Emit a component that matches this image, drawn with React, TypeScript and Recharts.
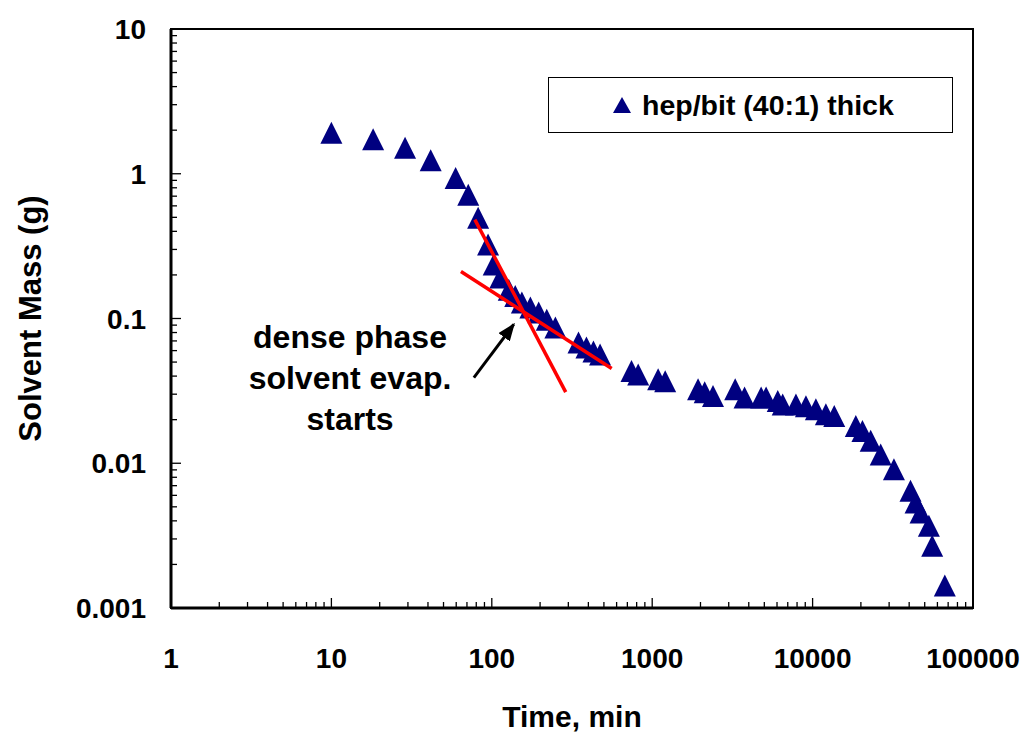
import React from "react";
import {
  Legend,
  ReferenceArea,
  ReferenceLine,
  Scatter,
  ScatterChart,
  XAxis,
  YAxis,
} from "recharts";

// values (minutes, grams)
const timeMin = [
  10, 18.2, 28.8, 41.6, 59.5, 71.3, 82.2, 94.8, 102.8, 113, 127.6, 140, 154,
  174, 196, 220, 249, 347, 389, 430, 473, 743, 818, 1089, 1205, 1932, 2125,
  2393, 3290, 3765, 4775, 5130, 6065, 6510, 7875, 9085, 10480, 12100, 13640,
  18590, 20450, 23030, 26570, 32150, 40780, 43850, 47110, 53100, 55650, 66700,
];
const massG = [
  1.92, 1.73, 1.51, 1.24, 0.933, 0.716, 0.497, 0.324, 0.236, 0.192, 0.158,
  0.143, 0.129, 0.119, 0.11, 0.098, 0.0867, 0.0683, 0.063, 0.0592, 0.0565,
  0.0434, 0.0411, 0.038, 0.0368, 0.0324, 0.0309, 0.0291, 0.0324, 0.0285,
  0.0285, 0.0285, 0.0269, 0.0255, 0.0255, 0.0248, 0.0236, 0.0218, 0.0212,
  0.0181, 0.0167, 0.0143, 0.0115, 0.0091, 0.00645, 0.00536, 0.00457, 0.0037,
  0.00269, 0.00143,
];

const xMajorTicks = [1, 10, 100, 1000, 10000, 100000];
const yMajorTicks = [0.001, 0.01, 0.1, 1, 10];
const minorSteps = [2, 3, 4, 5, 6, 7, 8, 9];
const xAllTicks = [
  ...xMajorTicks,
  ...xMajorTicks.slice(0, -1).flatMap((d) => minorSteps.map((m) => m * d)),
];
const yAllTicks = [
  ...yMajorTicks,
  ...yMajorTicks.slice(0, -1).flatMap((d) => minorSteps.map((m) => m * d)),
];

// hand-drawn fit lines and the arrow, in data units
const fitSteep = [
  { x: 78.4, y: 0.482 },
  { x: 289, y: 0.031 },
];
const fitShallow = [
  { x: 64.2, y: 0.211 },
  { x: 559, y: 0.0452 },
];
const arrowPts = [
  { x: 77.3, y: 0.039 },
  { x: 137, y: 0.091 },
];
const noteLines = ["dense phase", "solvent evap.", "starts"];
const seriesName = "hep/bit (40:1) thick";

const data = timeMin.map((t, i) => ({ x: t, y: massG[i] }));

const FONT = "'Liberation Sans', Arial, Helvetica, sans-serif";
const NAVY = "#000080";
const X_GAP = 40; // distance from axis line to tick text anchor
const Y_GAP = 25;

const isMajor = (list: number[], v: number) =>
  list.some((m) => Math.abs(m - v) / m < 1e-9);

const Triangle = (props: any) => {
  const { cx, cy } = props;
  return (
    <polygon
      points={`${cx},${cy - 11} ${cx - 11},${cy + 11} ${cx + 11},${cy + 11}`}
      fill={NAVY}
    />
  );
};

const NoMark = () => <g />;

const XTick = (props: any) => {
  const { x, y, payload } = props;
  const major = isMajor(xMajorTicks, payload.value);
  const base = y - X_GAP;
  return (
    <g>
      <line x1={x} x2={x} y1={base} y2={base - (major ? 10 : 6)} stroke="#000" strokeWidth={1.3} />
      {major && (
        <text x={x} y={y + 20} textAnchor="middle" fontFamily={FONT} fontWeight="bold" fontSize={28} fill="#000">
          {String(payload.value)}
        </text>
      )}
    </g>
  );
};

const YTick = (props: any) => {
  const { x, y, payload } = props;
  const major = isMajor(yMajorTicks, payload.value);
  const base = x + Y_GAP;
  return (
    <g>
      <line x1={base} x2={base + (major ? 10 : 6)} y1={y} y2={y} stroke="#000" strokeWidth={1.3} />
      {major && (
        <text x={x} y={y + 10} textAnchor="end" fontFamily={FONT} fontWeight="bold" fontSize={28} fill="#000">
          {String(payload.value)}
        </text>
      )}
    </g>
  );
};

const LegendBox = () => (
  <div
    style={{
      width: 405,
      height: 56,
      boxSizing: "border-box",
      border: "1px solid #000",
      background: "#fff",
      display: "flex",
      alignItems: "center",
      paddingLeft: 63,
      fontFamily: FONT,
      fontWeight: "bold",
      fontSize: 28.5,
      color: "#000",
    }}
  >
    <svg width={20} height={18} style={{ marginRight: 10 }}>
      <polygon points="10,1 1,17 19,17" fill={NAVY} />
    </svg>
    <span>{seriesName}</span>
  </div>
);

export default function App() {
  return (
    <div style={{ position: "absolute", left: 0, top: 0 }}>
      <ScatterChart
        width={1025}
        height={734}
        margin={{ top: 29, right: 52, bottom: 0, left: 0 }}
        style={{ background: "#fff" }}
      >
        <defs>
          <marker
            id="arrowHead"
            markerUnits="userSpaceOnUse"
            markerWidth={18}
            markerHeight={14}
            refX={16}
            refY={7}
            orient="auto"
          >
            <path d="M0,0 L18,7 L0,14 z" fill="#000" />
          </marker>
        </defs>

        <XAxis
          xAxisId="main"
          dataKey="x"
          type="number"
          scale="log"
          domain={[1, 100000]}
          ticks={xAllTicks}
          interval={0}
          tickSize={0}
          tickMargin={X_GAP}
          tickLine={false}
          axisLine={{ stroke: "#000", strokeWidth: 3 }}
          tick={<XTick />}
          height={126}
          allowDataOverflow
          label={{
            value: "Time, min",
            position: "insideBottom",
            offset: 7,
            fill: "#000",
            fontSize: 30,
            fontWeight: "bold",
            fontFamily: FONT,
          }}
        />
        <YAxis
          yAxisId="main"
          dataKey="y"
          type="number"
          scale="log"
          domain={[0.001, 10]}
          ticks={yAllTicks}
          interval={0}
          tickSize={0}
          tickMargin={Y_GAP}
          tickLine={false}
          axisLine={{ stroke: "#000", strokeWidth: 3 }}
          tick={<YTick />}
          width={171}
          allowDataOverflow
          label={{
            value: "Solvent Mass (g)",
            angle: -90,
            position: "insideLeft",
            offset: 30,
            fill: "#000",
            fontSize: 31,
            fontWeight: "bold",
            fontFamily: FONT,
            style: { textAnchor: "middle" },
          }}
        />

        <ReferenceArea
          xAxisId="main"
          yAxisId="main"
          x1={1}
          x2={100000}
          y1={0.001}
          y2={10}
          fill="none"
          stroke="#000"
          strokeWidth={2}
        />

        <Scatter
          name={seriesName}
          data={data}
          xAxisId="main"
          yAxisId="main"
          fill={NAVY}
          shape={Triangle}
          isAnimationActive={false}
        />
        <Scatter
          name="fit steep"
          legendType="none"
          data={fitSteep}
          xAxisId="main"
          yAxisId="main"
          line={{ stroke: "#ff0000", strokeWidth: 3.5 }}
          shape={NoMark}
          isAnimationActive={false}
        />
        <Scatter
          name="fit shallow"
          legendType="none"
          data={fitShallow}
          xAxisId="main"
          yAxisId="main"
          line={{ stroke: "#ff0000", strokeWidth: 3.5 }}
          shape={NoMark}
          isAnimationActive={false}
        />

        <ReferenceLine
          xAxisId="main"
          yAxisId="main"
          segment={arrowPts}
          stroke="#000"
          strokeWidth={3}
          markerEnd="url(#arrowHead)"
        />

        {noteLines.map((line, i) => (
          <text
            key={line}
            x={350}
            y={348 + i * 41}
            textAnchor="middle"
            fontFamily={FONT}
            fontWeight="bold"
            fontSize={32}
            fill="#000"
          >
            {line}
          </text>
        ))}

        <Legend
          layout="vertical"
          align="center"
          verticalAlign="middle"
          content={LegendBox}
          wrapperStyle={{ left: 548, top: 77, width: 405, height: 56 }}
        />
      </ScatterChart>
    </div>
  );
}
